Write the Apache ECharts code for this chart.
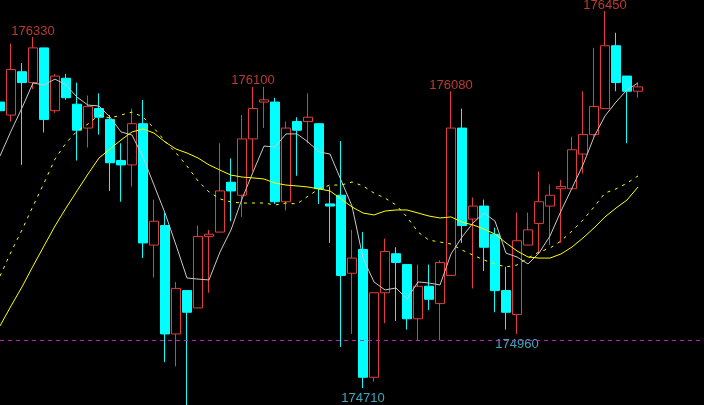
<!DOCTYPE html>
<html>
<head>
<meta charset="utf-8">
<script src="https://cdn.jsdelivr.net/npm/echarts@6/dist/echarts.min.js"></script>
<style>
html,body{margin:0;padding:0;background:#000;}
#chart{width:704px;height:405px;}
</style>
</head>
<body>
<div id="chart"></div>
<script>
// candles: [open, close, low, high]
var candles = [
[176030,175990,175810,176150],[175970,176180,175940,176300],[176170,176120,175740,176210],
[176120,176280,176090,176330],[176280,175950,175890,176280],[175990,176150,175980,176160],
[176140,176050,176040,176160],[176020,175900,175760,176120],[175910,176010,175820,176060],
[176000,175960,175880,176070],[175950,175750,175620,175970],[175760,175740,175570,175840],
[175740,175930,175640,176000],[175930,175380,175310,176040],[175370,175480,175220,175580],
[175460,174960,174830,175520],[174960,175170,174810,175200],[175160,175060,174600,175160],
[175080,175410,175080,175460],[175410,175420,175150,175440],[175430,175620,175430,175840],
[175660,175620,175480,175770],[175600,175860,175500,175970],[175860,176000,175710,176100],
[176030,176040,175910,176100],[176030,175570,175560,176050],[175570,175910,175530,175940],
[175940,175900,175690,175960],[175940,175960,175840,176070],[175930,175630,175560,175930],
[175560,175550,175380,175640],[175600,175230,174900,175850],[175240,175310,174960,175440],
[175350,174760,174710,175430],[174760,175150,174740,175150],[175150,175340,175010,175400],
[175330,175290,175020,175360],[175280,175030,174980,175280],[175030,175180,174930,175280],
[175180,175120,175070,175280],[175100,175290,174930,175300],[175230,175910,175230,176080],
[175910,175460,175380,176000],[175490,175550,175170,175590],[175550,175360,175250,175580],
[175420,175160,175060,175450],[175160,175060,174980,175270],[175050,175390,174960,175520],
[175370,175440,175370,175520],[175470,175570,175330,175710],[175550,175600,175370,175650],
[175630,175640,175380,175670],[175630,175810,175630,175870],[175790,175880,175700,176080],
[175880,176010,175870,176280],[176000,176290,176000,176450],[176290,176120,176080,176350],
[176150,176080,175840,176150],[176080,176100,176050,176120]
];
var ma5 = [175781,175896,176003,176118,176109,176136,176109,176053,176016,176012,175961,175892,175878,175776,175647,175518,175370,175218,175213,175209,175338,175440,175583,175707,175827,175823,175883,175883,175846,175800,175790,175670,175550,175310,175200,175163,175172,175121,175200,175195,175186,175329,175407,175472,175518,175481,175333,175315,175283,175333,175412,175527,175633,175740,175869,175966,176030,176086,176118];
var maDash = [175227,175338,175440,175550,175656,175767,175841,175896,175929,175970,175956,175970,175984,175961,175910,175850,175795,175735,175666,175615,175583,175569,175564,175564,175564,175555,175564,175560,175596,175629,175647,175647,175661,175643,175610,175587,175555,175500,175430,175393,175384,175375,175347,175324,175301,175283,175269,175278,175310,175338,175356,175389,175435,175486,175546,175610,175629,175656,175689];
var ma20 = [174997,175089,175177,175273,175366,175458,175541,175620,175698,175772,175813,175855,175892,175906,175887,175846,175813,175795,175772,175740,175716,175693,175684,175680,175675,175656,175647,175643,175638,175629,175620,175583,175546,175518,175509,175527,175532,175532,175518,175504,175495,175500,175476,175463,175444,175421,175380,175343,175315,175310,175310,175329,175361,175403,175449,175500,175541,175578,175638];
var highMarks = [[3,176330],[23,176100],[41,176080],[55,176450]];
var lowMarks = [[33,174710],[47,174960]];
var refLine = 174932;
var slotCount = 65;
var categories = [];
for (var i = 0; i < slotCount; i++) categories.push(String(i + 1));

var RED = '#e23c3c', CYAN = '#00ffff';
var chart = echarts.init(document.getElementById('chart'));
chart.setOption({
  backgroundColor: '#000',
  animation: false,
  grid: {left: 0, right: 0, top: 0, bottom: 0},
  xAxis: {type: 'category', data: categories, boundaryGap: false, show: false},
  yAxis: {type: 'value', min: 174632, max: 176501, show: false, splitLine: {show: false}},
  series: [
    {
      type: 'candlestick', data: candles, barWidth: 9,
      itemStyle: {color: '#000', color0: CYAN, borderColor: RED, borderColor0: CYAN, borderWidth: 1},
      markLine: {
        silent: true, symbol: ['none','none'], label: {show: false},
        lineStyle: {color: '#b82cb8', type: [4,4], width: 1},
        data: [{yAxis: refLine}]
      }
    },
    {type: 'line', data: ma5, showSymbol: false, lineStyle: {color: '#c8c8c8', width: 1}},
    {type: 'line', data: maDash, showSymbol: false, lineStyle: {color: '#ffff00', width: 1, type: [3,5]}},
    {type: 'line', data: ma20, showSymbol: false, lineStyle: {color: '#ffff00', width: 1}},
    {
      type: 'scatter', data: highMarks, symbolSize: 1, itemStyle: {color: 'transparent'},
      label: {show: true, position: 'top', distance: -1, color: '#e8483c', fontSize: 13,
        fontFamily: 'Liberation Sans', formatter: function(p){return p.value[1];}}
    },
    {
      type: 'scatter', data: lowMarks, symbolSize: 1, itemStyle: {color: 'transparent'},
      label: {show: true, position: 'bottom', distance: 3, color: '#4cd2ec', fontSize: 13,
        fontFamily: 'Liberation Sans', formatter: function(p){return p.value[1];}}
    }
  ]
});
</script>
</body>
</html>
